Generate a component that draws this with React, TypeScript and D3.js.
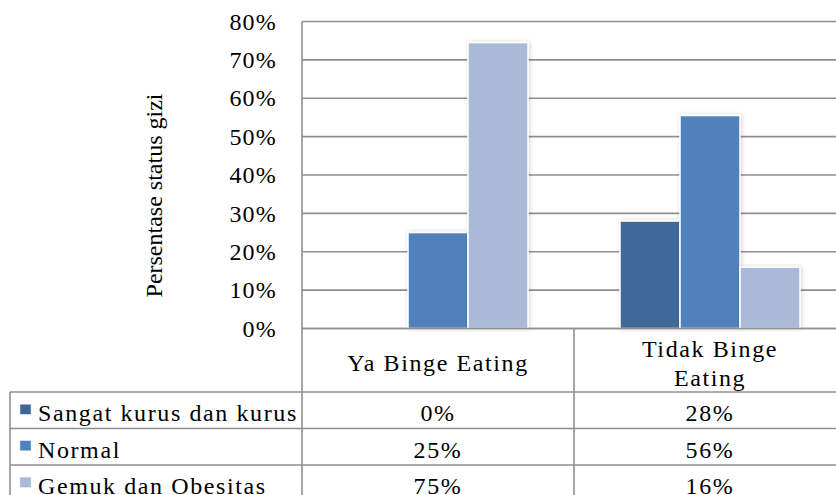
import React from 'react';
import * as d3 from 'd3';

// Category labels (header row lines) and series of the chart
const categories = ['Ya Binge Eating', 'Tidak Binge Eating'];
const categoryLines = [['Ya Binge Eating'], ['Tidak Binge', 'Eating']];
const seriesNames = ['Sangat kurus dan kurus', 'Normal', 'Gemuk dan Obesitas'];
const seriesColors = ['#3f6898', '#4f81bd', '#aab9d7'];
// values per series, one per category
const sangatKurus = [0, 0.28];
const normal = [0.25, 0.555];
const gemuk = [0.745, 0.16];
const tableLabels = [['0%', '28%'], ['25%', '56%'], ['75%', '16%']];
const yTicks = [0, 0.1, 0.2, 0.3, 0.4, 0.5, 0.6, 0.7, 0.8];

const W = 836;
const H = 495;
const plotLeft = 302;
const plotTop = 21.5;
const plotBottom = 328.5;
const headerBottom = 392;
const rowH = 36.5;
const legendLeft = 10;
const grid = '#8f8f8f';
const font = "'Liberation Serif', 'Times New Roman', serif";

export default function App() {
  const values = [sangatKurus, normal, gemuk];
  const y = d3.scaleLinear().domain([0, 0.8]).range([plotBottom, plotTop]);
  const x0 = d3.scaleBand<string>().domain(categories).range([plotLeft, plotLeft + 2 * 272]);
  const bw = x0.bandwidth();
  const x1 = d3.scaleBand<string>().domain(seriesNames).range([46, bw - 46]);
  const fmt = d3.format('.0%');
  const tableBottom = headerBottom + rowH * seriesNames.length;
  const txt = { fontFamily: font, fontSize: 24, letterSpacing: 1.6, fill: '#000' } as React.CSSProperties;

  return (
    <div style={{ position: 'absolute', left: 0, top: 0 }}>
      <svg width={W} height={H} style={{ display: 'block', background: '#fff', fontFamily: font }}>
        <defs>
          <filter id="sh" x="-20%" y="-5%" width="140%" height="110%">
            <feDropShadow dx="1" dy="0" stdDeviation="2" floodColor="#000" floodOpacity="0.18" />
          </filter>
        </defs>
        {/* gridlines */}
        {yTicks.map(t => (
          <line key={t} x1={plotLeft} x2={W} y1={y(t)} y2={y(t)} stroke={grid} strokeWidth={1.6} />
        ))}
        {/* tick labels */}
        {yTicks.map(t => (
          <text key={'l' + t} x={277} y={y(t)} dy="0.34em" textAnchor="end" style={{ ...txt, letterSpacing: 1.2 }}>
            {fmt(t)}
          </text>
        ))}
        {/* bars */}
        {categories.map((c, ci) => (
          <g key={c} transform={`translate(${x0(c)},0)`}>
            {seriesNames.map((s, si) => {
              const v = values[si][ci];
              if (!v) return null;
              return (
                <rect key={s} x={x1(s)} y={y(v)} width={x1.bandwidth()} height={plotBottom - y(v)}
                  fill={seriesColors[si]} stroke="#fff" strokeWidth={1.5} filter="url(#sh)" />
              );
            })}
          </g>
        ))}
        {/* y axis title */}
        <text transform={`translate(162,195.5) rotate(-90)`} textAnchor="middle" style={{ ...txt, letterSpacing: 0 }}>
          Persentase status gizi
        </text>
        {/* data table lines */}
        <line x1={plotLeft} x2={plotLeft} y1={plotTop} y2={H} stroke={grid} strokeWidth={1.6} />
        <line x1={plotLeft} x2={W} y1={plotBottom} y2={plotBottom} stroke={grid} strokeWidth={1.6} />
        {categories.map(c => (
          <line key={'v' + c} x1={(x0(c) as number) + bw} x2={(x0(c) as number) + bw} y1={plotBottom} y2={H} stroke={grid} strokeWidth={1.6} />
        ))}
        <line x1={legendLeft} x2={legendLeft} y1={headerBottom} y2={H} stroke={grid} strokeWidth={1.6} />
        {d3.range(seriesNames.length + 1).map(i => (
          <line key={'h' + i} x1={legendLeft} x2={W} y1={headerBottom + i * rowH} y2={headerBottom + i * rowH} stroke={grid} strokeWidth={1.6} />
        ))}
        {/* header labels */}
        {categories.map((c, ci) => {
          const lines = categoryLines[ci];
          const cx = (x0(c) as number) + bw / 2;
          const cy = (plotBottom + headerBottom) / 2 + 3;
          return (
            <text key={'t' + c} x={cx} textAnchor="middle" style={txt}>
              {lines.map((l, li) => (
                <tspan key={li} x={cx} y={cy + (li - (lines.length - 1) / 2) * 29} dy="0.34em">{l}</tspan>
              ))}
            </text>
          );
        })}
        {/* legend rows and values */}
        {seriesNames.map((s, si) => {
          const ry = headerBottom + si * rowH;
          const my = ry + rowH / 2;
          return (
            <g key={'r' + s}>
              <rect x={20} y={my - 6} width={11} height={10} fill={seriesColors[si]} stroke="#ddd" strokeWidth={0.5} />
              <text x={38} y={my + 3} dy="0.34em" style={txt}>{s}</text>
              {categories.map((c, ci) => (
                <text key={c} x={(x0(c) as number) + bw / 2} y={my + 3} dy="0.34em" textAnchor="middle" style={txt}>
                  {tableLabels[si][ci]}
                </text>
              ))}
            </g>
          );
        })}
        <line x1={legendLeft} x2={W} y1={tableBottom} y2={tableBottom} stroke={grid} strokeWidth={1.6} />
      </svg>
    </div>
  );
}
